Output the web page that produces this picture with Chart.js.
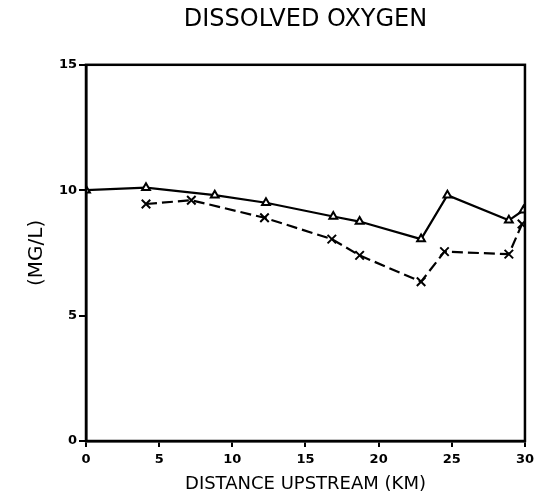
<!DOCTYPE html>
<html>
<head>
<meta charset="utf-8">
<script src="https://cdn.jsdelivr.net/npm/chart.js@4/dist/chart.umd.min.js"></script>
<style>
  html, body { margin: 0; padding: 0; background: #fff; }
  #wrap { width: 539px; height: 497px; }
</style>
</head>
<body>
<div id="wrap"><canvas id="myChart" width="539" height="497"></canvas></div>
<script>
// values
const triDist = [0, 4.1, 8.8, 12.3, 16.9, 18.7, 22.9, 24.7, 28.9, 29.9];
const triDO = [10.0, 10.1, 9.8, 9.5, 8.95, 8.75, 8.05, 9.8, 8.8, 9.2];
const crossDist = [4.1, 7.2, 12.2, 16.8, 18.7, 22.9, 24.5, 28.9, 29.8];
const crossDO = [9.45, 9.6, 8.9, 8.05, 7.4, 6.35, 7.55, 7.45, 8.65];
const xTicks = [0, 5, 10, 15, 20, 25, 30];
const yTicks = [0, 5, 10, 15];

const FONT = "'DejaVu Sans', sans-serif";

let toPoints = (xs, ys) => xs.map((x, i) => ({ x: x, y: ys[i] }));

//* draws the top and right side of the frame
const frameBox = {
  id: "frameBox",
  afterDraw(chart) {
    const { ctx, chartArea } = chart;
    ctx.save();
    ctx.strokeStyle = "#000";
    ctx.lineWidth = 2.5;
    ctx.strokeRect(chartArea.left, chartArea.top, chartArea.right - chartArea.left, chartArea.bottom - chartArea.top);
    ctx.restore();
  },
};

const ctx = document.querySelector("#myChart").getContext("2d");
const myChart = new Chart(ctx, {
  type: "scatter",
  data: {
    datasets: [
      {
        data: toPoints(triDist, triDO),
        showLine: true,
        borderColor: "#000",
        borderWidth: 2.2,
        pointStyle: "triangle",
        pointRadius: 4.5,
        pointBorderWidth: 2,
        pointBackgroundColor: "#fff",
        pointBorderColor: "#000",
        tension: 0,
      },
      {
        data: toPoints(crossDist, crossDO),
        showLine: true,
        borderColor: "#000",
        borderWidth: 2.2,
        borderDash: [11, 5],
        pointStyle: "crossRot",
        pointRadius: 6,
        pointBorderWidth: 2,
        pointBorderColor: "#000",
        tension: 0,
      },
    ],
  },
  options: {
    responsive: false,
    animation: false,
    layout: { padding: { top: 0, right: 13, bottom: 0, left: 0 } },
    plugins: {
      legend: { display: false },
      tooltip: { enabled: false },
      title: {
        display: true,
        fullSize: false,
        text: "DISSOLVED OXYGEN",
        color: "#000",
        font: { family: FONT, size: 24, weight: "normal" },
        padding: { top: 5, bottom: 31 },
      },
    },
    scales: {
      x: {
        type: "linear",
        min: 0,
        max: 30,
        afterBuildTicks: (scale) => { scale.ticks = xTicks.map((v) => ({ value: v })); },
        afterFit: (scale) => { scale.height = 56; },
        border: { display: true, color: "#000", width: 2.5 },
        grid: { drawOnChartArea: false, color: "#000", lineWidth: 2, tickLength: 6 },
        ticks: { color: "#000", font: { family: FONT, size: 13, weight: "bold" }, padding: 5, maxRotation: 0 },
        title: {
          display: true,
          text: "DISTANCE UPSTREAM (KM)",
          color: "#000",
          font: { family: FONT, size: 18 },
          padding: { top: 0, bottom: 2 },
        },
      },
      y: {
        type: "linear",
        min: 0,
        max: 15,
        afterBuildTicks: (scale) => { scale.ticks = yTicks.map((v) => ({ value: v })); },
        afterFit: (scale) => { scale.width = 86; },
        border: { display: true, color: "#000", width: 2.5 },
        grid: { drawOnChartArea: false, color: "#000", lineWidth: 2, tickLength: 7 },
        ticks: { color: "#000", font: { family: FONT, size: 13, weight: "bold" }, padding: 2 },
        title: {
          display: true,
          text: "(MG/L)",
          color: "#000",
          font: { family: FONT, size: 20 },
          padding: { top: 25, bottom: 0 },
        },
      },
    },
  },
  plugins: [frameBox],
});
</script>
</body>
</html>
